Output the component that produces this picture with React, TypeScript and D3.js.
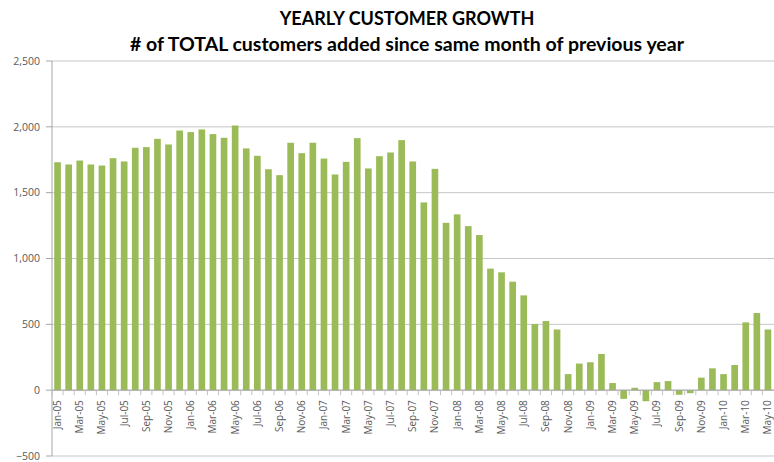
import React from "react";
import * as d3 from "d3";

const months: string[] = (() => {
  const m = ["Jan","Feb","Mar","Apr","May","Jun","Jul","Aug","Sep","Oct","Nov","Dec"];
  const out: string[] = [];
  for (const y of ["05","06","07","08","09","10"]) for (const mm of m) out.push(`${mm}-${y}`);
  return out.slice(0, 65);
})();

const values: number[] = [
  1731, 1714, 1744, 1714, 1706, 1762, 1737, 1841, 1846, 1909, 1866, 1972,
  1960, 1980, 1945, 1917, 2010, 1836, 1780, 1678, 1633, 1879, 1800, 1879,
  1759, 1638, 1734, 1914, 1684, 1777, 1805, 1899, 1737, 1426, 1681, 1271,
  1335, 1246, 1178, 923, 895, 824, 720, 502, 525, 461, 122, 202,
  212, 275, 54, -66, 18, -84, 61, 69, -35, -23, 95, 166,
  122, 191, 515, 586, 461,
];

const yTicks: number[] = [-500, 0, 500, 1000, 1500, 2000, 2500];
const titleLines: string[] = [
  "YEARLY CUSTOMER GROWTH",
  "# of TOTAL customers added since same month of previous year",
];

export default function App() {
  const W = 774, H = 462;
  const left = 52, right = 773.5, top = 61, bottom = 456;
  const x = d3.scaleBand<string>().domain(months).range([left, right]).paddingInner(0.4).paddingOuter(0.2);
  const y = d3.scaleLinear().domain([-500, 2500]).range([bottom, top]);
  const fmt = d3.format(",");
  const step = x.step();
  const y0 = y(0);
  return (
    <svg width={W} height={H} style={{ position: "absolute", left: 0, top: 0, background: "#fff" }}
      fontFamily="'Open Sans', sans-serif">
      {yTicks.map((t) => (
        <g key={t}>
          <line x1={left} x2={W} y1={y(t)} y2={y(t)} stroke="#c6c6c6" strokeWidth={1} />
          <line x1={left - 6} x2={left} y1={y(t)} y2={y(t)} stroke="#a6a6a6" />
          <text x={40} y={y(t)} dy="0.35em" textAnchor="end" fontSize={10.5} fill="#595959">{fmt(t)}</text>
        </g>
      ))}
      <line x1={left} x2={left} y1={top} y2={bottom} stroke="#a6a6a6" />
      {values.map((v, i) => (
        <rect key={i} x={x(months[i])!} width={x.bandwidth()} y={Math.min(y(v), y0)}
          height={Math.abs(y(v) - y0)} fill="#9BBB59" />
      ))}
      <line x1={left} x2={W} y1={y0} y2={y0} stroke="#a6a6a6" />
      {months.map((m, i) => (
        <line key={m} x1={left + i * step} x2={left + i * step} y1={y0} y2={y0 + 5} stroke="#c0c0c0" />
      ))}
      {months.map((m, i) =>
        i % 2 === 0 ? (
          <text key={m} transform={`translate(${x(m)! + x.bandwidth() / 2},${y0 + 10}) rotate(-90)`}
            textAnchor="end" dy="0.35em" fontSize={10} fill="#595959">{m}</text>
        ) : null
      )}
      <text x={407} y={25} textAnchor="middle" fontSize={18} fontWeight="bold" fill="#000"
        fontFamily="Lato, sans-serif">{titleLines[0]}</text>
      <text x={407} y={51} textAnchor="middle" fontSize={19.5} fontWeight="bold" fill="#000"
        fontFamily="Lato, sans-serif">{titleLines[1]}</text>
    </svg>
  );
}
